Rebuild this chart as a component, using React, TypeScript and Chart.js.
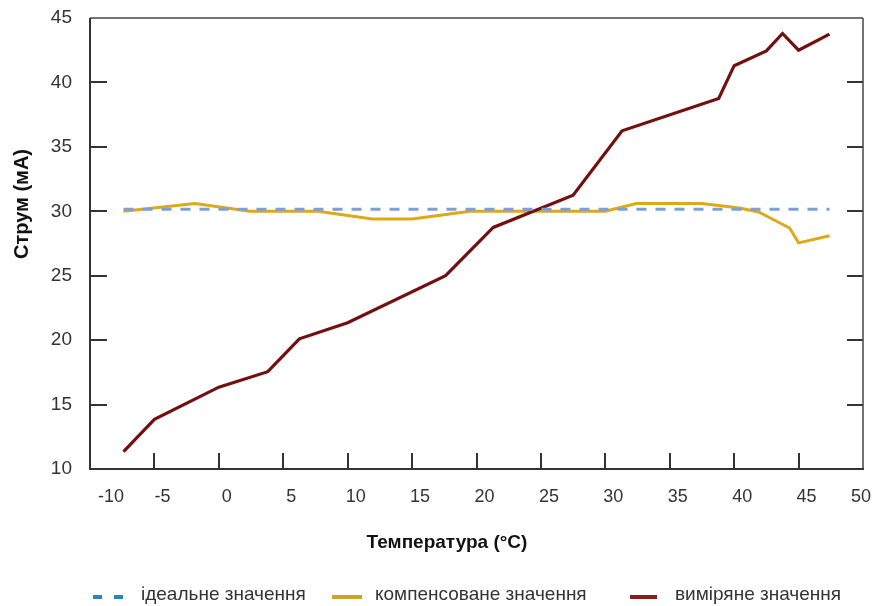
import React, { useEffect, useRef } from 'react';
import { Chart, registerables } from 'chart.js';

Chart.register(...registerables);

// ---- text ----
const xTitle = 'Температура (°C)';
const yTitle = 'Струм (мА)';
const seriesLabels = ['ідеальне значення', 'компенсоване значення', 'виміряне значення'];

// ---- axes ----
const xMin = -10;
const xMax = 50;
const xStep = 5;
const yMin = 10;
const yMax = 45;
const yStep = 5;

// ---- series (temperature °C, current mA) ----
const idealT = [-7.4, 47.4];
const idealI = [30.15, 30.15];

const compT = [-7.4, -1.85, 2.4, 7.7, 11.9, 15.0, 19.5, 30.0, 32.4, 37.5, 40.4, 41.9, 44.3, 45.0, 47.4];
const compI = [30.0, 30.6, 30.0, 30.0, 29.4, 29.4, 30.0, 30.0, 30.6, 30.6, 30.25, 29.95, 28.7, 27.55, 28.1];

const measT = [-7.4, -5.0, 0.0, 3.8, 6.25, 10.0, 17.6, 21.3, 27.5, 31.3, 38.8, 40.0, 42.5, 43.75, 45.0, 47.4];
const measI = [11.35, 13.85, 16.35, 17.55, 20.1, 21.35, 25.0, 28.75, 31.25, 36.25, 38.75, 41.3, 42.45, 43.8, 42.5, 43.75];

const toPoints = (xs: number[], ys: number[]) => xs.map((x, i) => ({ x, y: ys[i] }));

const FONT = '"Liberation Sans", Arial, sans-serif';

const legendStyle = [
  { color: '#2f82bd', dashed: true, x1: 93, x2: 123, textX: 141 },
  { color: '#c9a52a', dashed: false, x1: 332, x2: 362, textX: 375 },
  { color: '#8a1c1c', dashed: false, x1: 630, x2: 657, textX: 675 },
];

const decorPlugin = {
  id: 'decor',
  afterDraw(chart: any) {
    const { ctx, chartArea: a, scales } = chart;
    const x = scales.x;
    const y = scales.y;
    ctx.save();
    const line = (x1: number, y1: number, x2: number, y2: number) => {
      ctx.beginPath();
      ctx.moveTo(x1, y1);
      ctx.lineTo(x2, y2);
      ctx.stroke();
    };
    // inner ticks
    ctx.strokeStyle = '#333';
    ctx.lineWidth = 2;
    x.ticks.forEach((t: any) => {
      if (t.value > xMin && t.value < xMax) {
        const px = Math.round(x.getPixelForValue(t.value));
        line(px, a.bottom, px, a.bottom - 16);
      }
    });
    y.ticks.forEach((t: any) => {
      if (t.value > yMin && t.value < yMax) {
        const py = Math.round(y.getPixelForValue(t.value));
        line(a.left, py, a.left + 17, py);
        line(a.right, py, a.right - 16, py);
      }
    });
    // frame
    ctx.lineWidth = 1.5;
    ctx.strokeStyle = '#444';
    line(a.left, a.top, a.right, a.top);
    line(a.right, a.top, a.right, a.bottom);
    ctx.lineWidth = 2;
    ctx.strokeStyle = '#333';
    line(a.left, a.top, a.left, a.bottom + 1);
    line(a.left - 1, a.bottom, a.right + 1, a.bottom);

    // axis titles
    ctx.fillStyle = '#111';
    ctx.font = `bold 19px ${FONT}`;
    ctx.textAlign = 'center';
    ctx.textBaseline = 'middle';
    ctx.fillText(xTitle, 447, 543);
    ctx.save();
    ctx.translate(22, 204);
    ctx.rotate(-Math.PI / 2);
    ctx.font = `bold 20px ${FONT}`;
    ctx.fillText(yTitle, 0, 0);
    ctx.restore();

    // legend
    ctx.font = `19px ${FONT}`;
    ctx.textAlign = 'left';
    ctx.fillStyle = '#333';
    chart.data.datasets.forEach((ds: any, i: number) => {
      const s = legendStyle[i];
      ctx.strokeStyle = s.color;
      ctx.lineWidth = 4;
      if (s.dashed) {
        line(s.x1, 597, s.x1 + 9, 597);
        line(s.x2 - 9, 597, s.x2, 597);
      } else {
        line(s.x1, 597, s.x2, 597);
      }
      ctx.fillText(ds.label, s.textX, 595);
    });
    ctx.restore();
  },
};

export default function App() {
  const ref = useRef<HTMLCanvasElement>(null);
  useEffect(() => {
    document.body.style.margin = '0';
    if (!ref.current) return;
    const chart = new Chart(ref.current, {
      type: 'line',
      data: {
        datasets: [
          {
            label: seriesLabels[0],
            data: toPoints(idealT, idealI),
            borderColor: '#7f9ed6',
            borderWidth: 3,
            borderDash: [10, 9],
            pointRadius: 0,
            tension: 0,
            order: 0,
          },
          {
            label: seriesLabels[1],
            data: toPoints(compT, compI),
            borderColor: '#dea81b',
            borderWidth: 3,
            pointRadius: 0,
            tension: 0,
            order: 2,
          },
          {
            label: seriesLabels[2],
            data: toPoints(measT, measI),
            borderColor: '#721010',
            borderWidth: 3.2,
            pointRadius: 0,
            tension: 0,
            order: 1,
          },
        ],
      },
      options: {
        animation: false,
        responsive: true,
        maintainAspectRatio: false,
        layout: { padding: { top: 18, right: 14, left: 0, bottom: 0 } },
        plugins: {
          legend: { display: false },
          tooltip: { enabled: false },
        },
        scales: {
          x: {
            type: 'linear',
            min: xMin,
            max: xMax,
            grid: { display: false, drawTicks: false, tickLength: 0 },
            border: { display: false },
            afterFit: (s: any) => {
              s.height = 137;
              s.paddingLeft = 0;
              s.paddingRight = 0;
            },
            ticks: {
              stepSize: xStep,
              autoSkip: false,
              maxRotation: 0,
              padding: 17,
              labelOffset: 8,
              align: 'inner',
              color: '#333',
              font: { family: FONT, size: 18 },
            },
          },
          y: {
            type: 'linear',
            min: yMin,
            max: yMax,
            grid: { display: false, drawTicks: false, tickLength: 0 },
            border: { display: false },
            afterFit: (s: any) => {
              s.width = 90;
              s.paddingTop = 0;
              s.paddingBottom = 0;
            },
            ticks: {
              stepSize: yStep,
              padding: 18,
              color: '#333',
              font: { family: FONT, size: 19 },
            },
          },
        },
      },
      plugins: [decorPlugin],
    });
    return () => chart.destroy();
  }, []);
  return (
    <div style={{ width: 877, height: 606, position: 'relative' }}>
      <canvas ref={ref} />
    </div>
  );
}
